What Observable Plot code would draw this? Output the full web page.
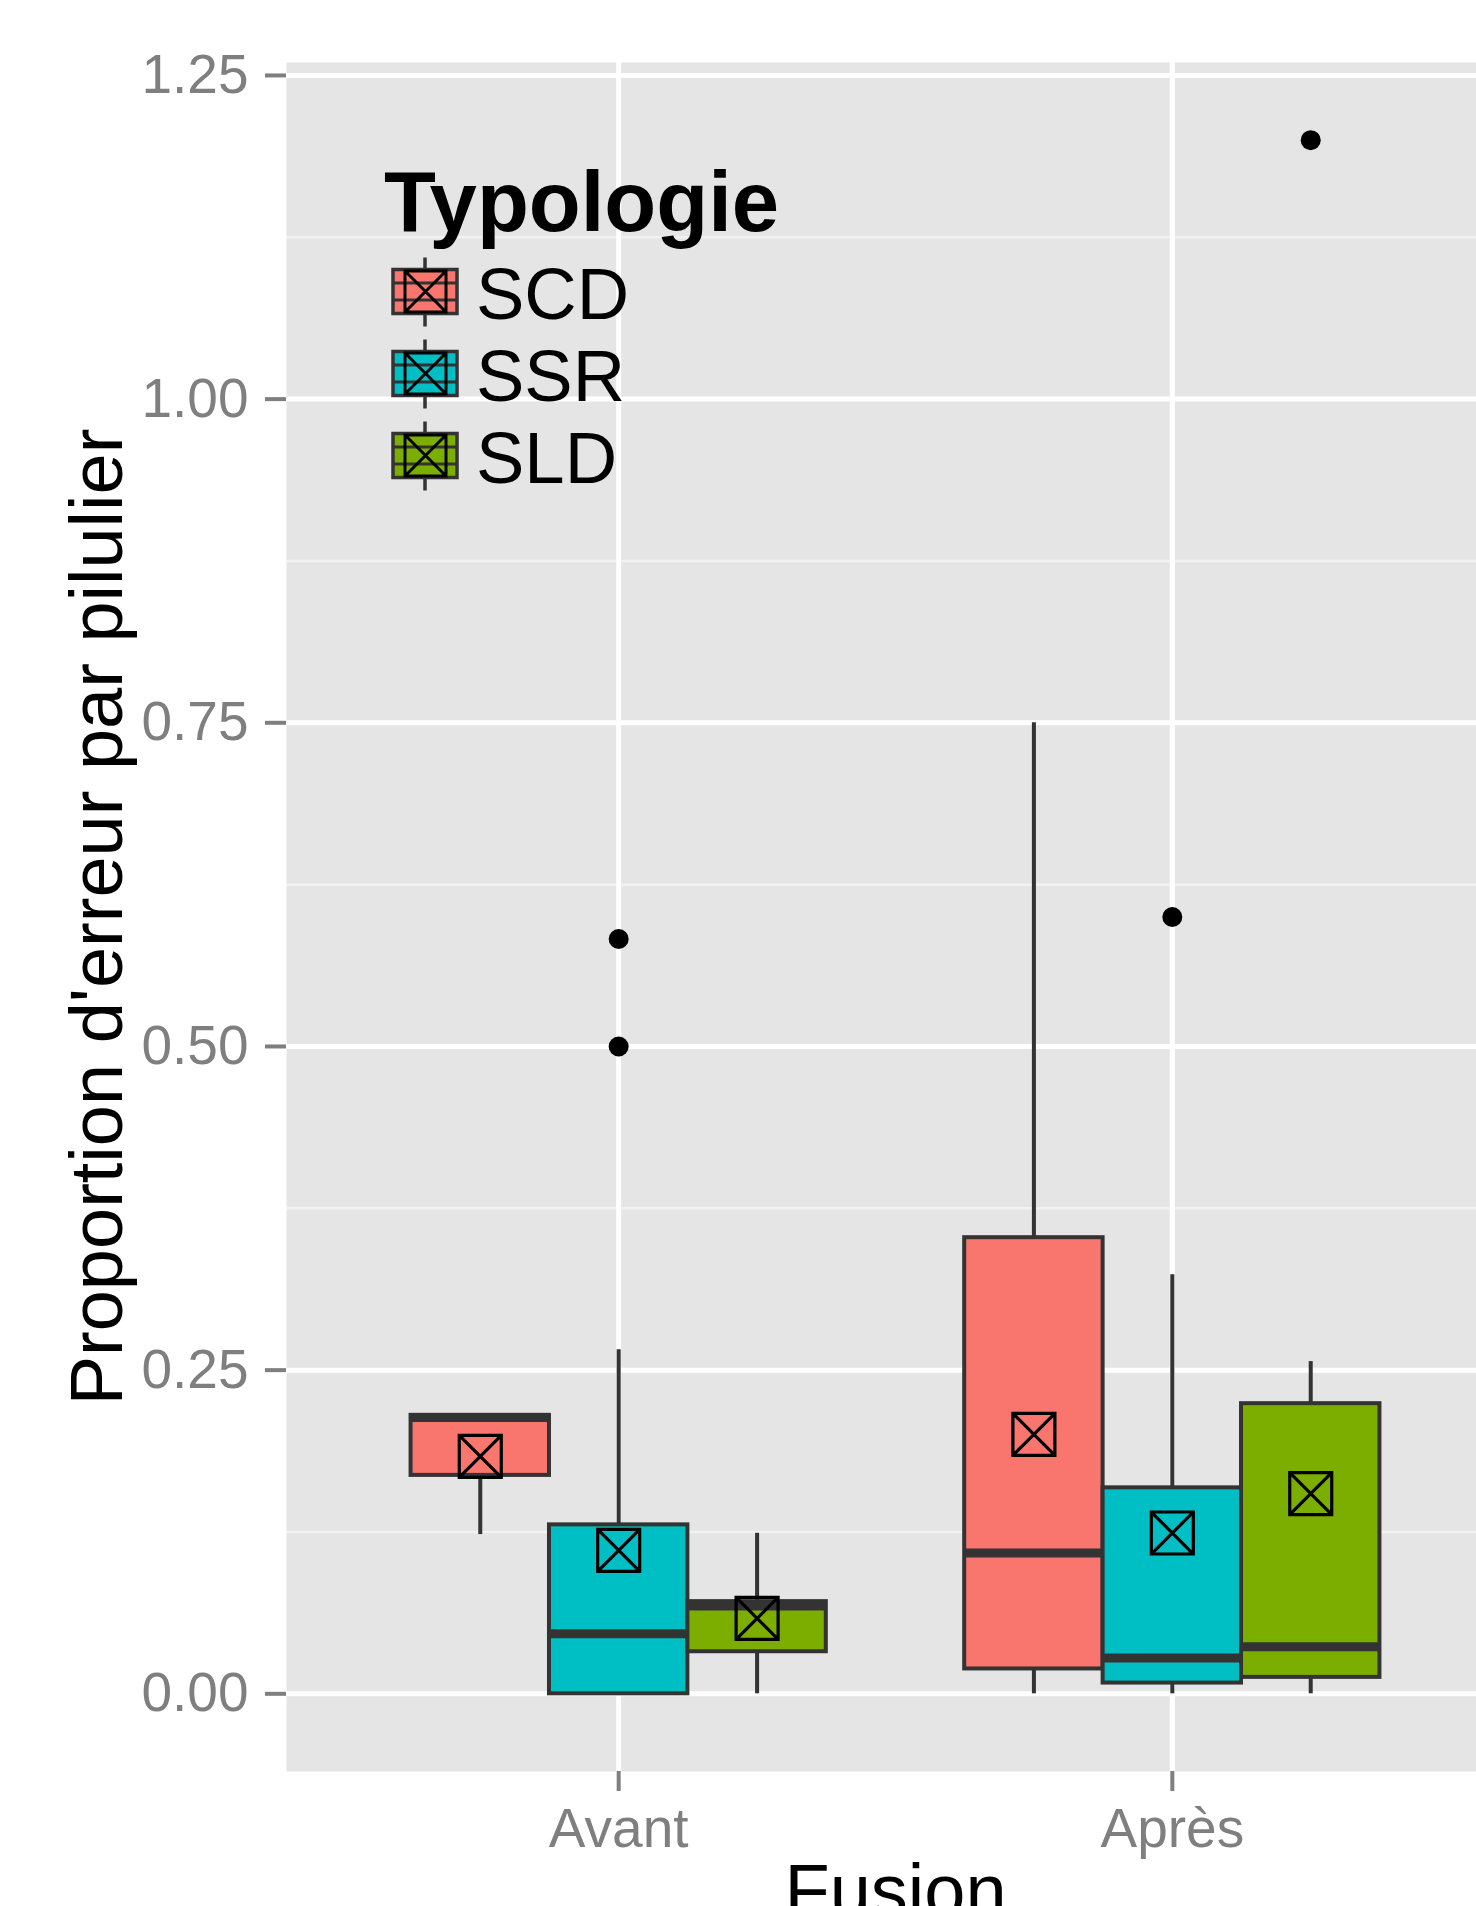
<!DOCTYPE html>
<html>
<head>
<meta charset="utf-8">
<script src="https://cdn.jsdelivr.net/npm/d3@7"></script>
<script src="https://cdn.jsdelivr.net/npm/@observablehq/plot@0.6"></script>
<style>
html, body { margin: 0; padding: 0; background: #fff; overflow: hidden; width: 1476px; height: 1906px; }
#wrap { position: relative; width: 1476px; height: 1906px; overflow: hidden; font-family: "Liberation Sans", Arial, Helvetica, sans-serif; }
#wrap svg.plot { position: absolute; left: 0; top: 0; }
#legend { position: absolute; left: 0; top: 0; pointer-events: none; }
</style>
</head>
<body>
<div id="wrap"></div>
<script>
// ---- data ----
const fusion = ["Avant", "Après"];
const typologie = ["SCD", "SSR", "SLD"];
const palette = ["#F8766D", "#00BFC4", "#7CAE00"];

const boxFusion = ["Avant", "Avant", "Avant", "Après", "Après", "Après"];
const boxType = ["SCD", "SSR", "SLD", "SCD", "SSR", "SLD"];
const whiskerLow = [0.123, 0, 0, 0, 0, 0];
const q1 = [0.1687, 0, 0.0325, 0.0192, 0.0083, 0.0127];
const median = [0.2135, 0.0463, 0.0678, 0.1088, 0.0276, 0.0364];
const q3 = [0.2151, 0.1305, 0.0712, 0.3523, 0.1591, 0.2241];
const whiskerHigh = [0.2151, 0.2658, 0.124, 0.75, 0.3237, 0.2566];
const mean = [0.1834, 0.1108, 0.0583, 0.2004, 0.1242, 0.1546];

const outlierFusion = ["Avant", "Avant", "Après", "Après"];
const outlierType = ["SSR", "SSR", "SSR", "SLD"];
const outlierValue = [0.583, 0.5, 0.6, 1.2];

const yTicks = [0, 0.25, 0.5, 0.75, 1, 1.25];
const yMinorTicks = [0.125, 0.375, 0.625, 0.875, 1.125];

const xTitle = "Fusion";
const yTitle = "Proportion d'erreur par pilulier";
const legendTitle = "Typologie";

// ---- build ----
const dodge = 0.25, half = 0.125;
const pos = (f, t) => fusion.indexOf(f) + 1 + (typologie.indexOf(t) - 1) * dodge;

const boxes = boxFusion.map((f, i) => ({
  fusion: f, type: boxType[i],
  lo: whiskerLow[i], q1: q1[i], med: median[i], q3: q3[i], hi: whiskerHigh[i], mean: mean[i]
}));
const outliers = outlierFusion.map((f, i) => ({fusion: f, type: outlierType[i], value: outlierValue[i]}));

const crossSquare = {
  draw(context, size) {
    const s = Math.sqrt(size) / 2;
    context.moveTo(-s, -s); context.lineTo(s, -s); context.lineTo(s, s); context.lineTo(-s, s); context.closePath();
    context.moveTo(-s, -s); context.lineTo(s, s);
    context.moveTo(s, -s); context.lineTo(-s, s);
  }
};

const boxStroke = "#333333";
const grey = "#7F7F7F";

const chart = Plot.plot({
  width: 1505,
  height: 1906,
  marginLeft: 286,
  marginRight: 1,
  marginTop: 62,
  marginBottom: 135,
  style: {fontFamily: "'Liberation Sans', Arial, Helvetica, sans-serif", maxWidth: "none", background: "transparent"},
  x: {type: "linear", domain: [0.4, 2.6]},
  y: {domain: [-0.06, 1.26]},
  color: {domain: typologie, range: palette},
  marks: [
    Plot.frame({fill: "#E5E5E5", stroke: "none"}),
    Plot.ruleY(yMinorTicks, {stroke: "#F2F2F2", strokeWidth: 2.5}),
    Plot.ruleY(yTicks, {stroke: "#FFFFFF", strokeWidth: 5}),
    Plot.ruleX([1, 2], {stroke: "#FFFFFF", strokeWidth: 5}),
    Plot.axisY({ticks: yTicks, tickFormat: d => d.toFixed(2), tickSize: 21, tickPadding: 17,
      fontSize: 55, color: grey, strokeWidth: 4, label: null}),
    Plot.axisX({ticks: [1, 2], tickFormat: d => fusion[d - 1], tickSize: 20, tickPadding: 16,
      fontSize: 55, color: grey, strokeWidth: 4, label: null}),
    // whiskers
    Plot.ruleX(boxes, {x: d => pos(d.fusion, d.type), y1: "q3", y2: "hi", stroke: boxStroke, strokeWidth: 4}),
    Plot.ruleX(boxes, {x: d => pos(d.fusion, d.type), y1: "lo", y2: "q1", stroke: boxStroke, strokeWidth: 4}),
    // boxes
    Plot.rect(boxes, {x1: d => pos(d.fusion, d.type) - half, x2: d => pos(d.fusion, d.type) + half,
      y1: "q1", y2: "q3", fill: "type", stroke: boxStroke, strokeWidth: 4}),
    // medians
    Plot.ruleY(boxes, {y: "med", x1: d => pos(d.fusion, d.type) - half, x2: d => pos(d.fusion, d.type) + half,
      stroke: boxStroke, strokeWidth: 9}),
    // outliers
    Plot.dot(outliers, {x: d => pos(d.fusion, d.type), y: "value", r: 10, fill: "black", stroke: "none"}),
    // means
    Plot.dot(boxes, {x: d => pos(d.fusion, d.type), y: "mean", symbol: crossSquare, r: 42 / Math.sqrt(Math.PI),
      fill: "none", stroke: "black", strokeWidth: 3.2}),
    // axis titles
    Plot.text([xTitle], {text: d => d, frameAnchor: "bottom", lineAnchor: "top", dy: 92, fontSize: 74, fill: "black"}),
    Plot.text([yTitle], {text: d => d, frameAnchor: "left", textAnchor: "middle", rotate: -90, lineAnchor: "bottom", dx: -165, fontSize: 74, fill: "black"})
  ]
});
chart.classList.add("plot");
document.getElementById("wrap").appendChild(chart);

// ---- legend (inside the panel, top-left) ----
const lg = d3.select("#wrap").append("svg")
  .attr("id", "legend").attr("width", 1476).attr("height", 560)
  .style("font-family", "'Liberation Sans', Arial, Helvetica, sans-serif");
lg.append("text").attr("x", 384).attr("y", 231).attr("font-size", 85).attr("font-weight", "bold")
  .attr("fill", "black").text(legendTitle);
typologie.forEach((t, i) => {
  const cy = 291.5 + i * 82;
  const g = lg.append("g");
  g.append("line").attr("x1", 425).attr("x2", 425).attr("y1", cy - 34).attr("y2", cy + 35)
    .attr("stroke", boxStroke).attr("stroke-width", 3.5);
  g.append("rect").attr("x", 393).attr("y", cy - 22).attr("width", 64).attr("height", 44)
    .attr("fill", palette[i]).attr("stroke", boxStroke).attr("stroke-width", 3.5);
  [-8.5, 8.5].forEach(o => g.append("line").attr("x1", 393).attr("x2", 457).attr("y1", cy + o).attr("y2", cy + o)
    .attr("stroke", boxStroke).attr("stroke-width", 3));
  const s = 20.5;
  g.append("path").attr("d", `M${425.5 - s},${cy - s}H${425.5 + s}V${cy + s}H${425.5 - s}Z M${425.5 - s},${cy - s}L${425.5 + s},${cy + s} M${425.5 + s},${cy - s}L${425.5 - s},${cy + s}`)
    .attr("fill", "none").attr("stroke", "black").attr("stroke-width", 3);
  g.append("text").attr("x", 476).attr("y", cy + 27.5).attr("font-size", 72.5).attr("fill", "black").text(t);
});
</script>
</body>
</html>
